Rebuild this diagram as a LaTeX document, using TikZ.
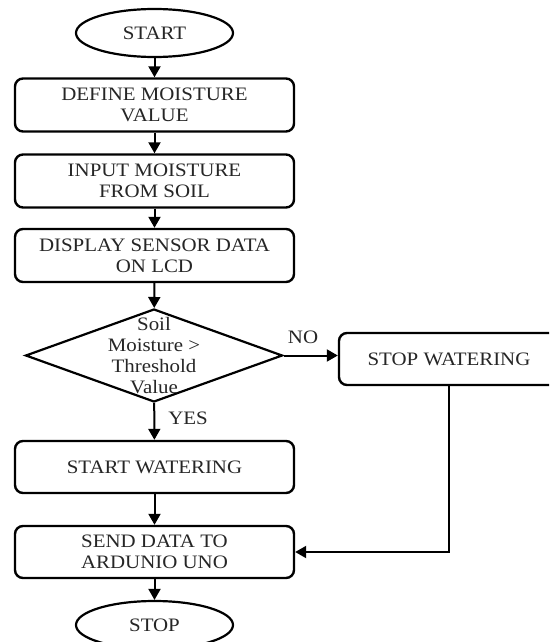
\documentclass[tikz,border=0pt]{standalone}
\usepackage{fontspec}
\setmainfont{Liberation Serif}[FakeStretch=1.1]
\usetikzlibrary{shapes.geometric,arrows.meta}
\begin{document}
\begin{tikzpicture}[x=1pt,y=-1pt,
  txt/.style={font=\fontsize{19}{21}\selectfont, text=black!85},
  box/.style={txt, draw, line width=2.4pt, rounded corners=8pt, minimum width=279pt, minimum height=53pt, inner sep=0pt, align=center},
  term/.style={txt, draw, ellipse, line width=2.2pt, minimum width=157pt, minimum height=48pt, inner sep=0pt},
  dia/.style={draw, diamond, line width=2.2pt, minimum width=257pt, minimum height=93pt, inner sep=0pt},
  lbl/.style={txt, inner sep=0pt, align=center},
  arr/.style={line width=2pt, -{Triangle[length=11pt,width=12pt]}}
]
\clip (0,0) rectangle (549,642);
\fill[white] (0,0) rectangle (549,642);

\node[term] (start) at (154.5,33) {START};
\node[box] (def) at (154.5,105) {DEFINE MOISTURE\\VALUE};
\node[box] (inp) at (154.5,181) {INPUT MOISTURE\\FROM SOIL};
\node[box] (disp) at (154.5,255.5) {DISPLAY SENSOR DATA\\ON LCD};
\node[dia] (dec) at (154,355.5) {};
\node[lbl] (dectxt) at (154,356) {Soil\\Moisture >\\Threshold\\Value};
\node[box, minimum width=220pt, minimum height=52pt] (sw) at (449,359) {STOP WATERING};
\node[box, minimum height=52pt] (stw) at (154.5,467) {START WATERING};
\node[box, minimum height=52pt] (send) at (154.5,552) {SEND DATA TO\\ARDUNIO UNO};
\node[term] (stop) at (154.5,625) {STOP};

\node[lbl] (no) at (303,337) {NO};
\node[lbl] (yes) at (188,418) {YES};

\draw[arr] (start) -- (def);
\draw[arr] (def) -- (inp);
\draw[arr] (inp) -- (disp);
\draw[arr] (disp) -- (dec);
\draw[arr] (dec.east) -- (dec.east -| sw.west);
\draw[arr] (dec) -- (stw);
\draw[arr] (stw) -- (send);
\draw[arr] (sw.south) |- (send.east);
\draw[arr] (send) -- (stop);
\end{tikzpicture}
\end{document}
